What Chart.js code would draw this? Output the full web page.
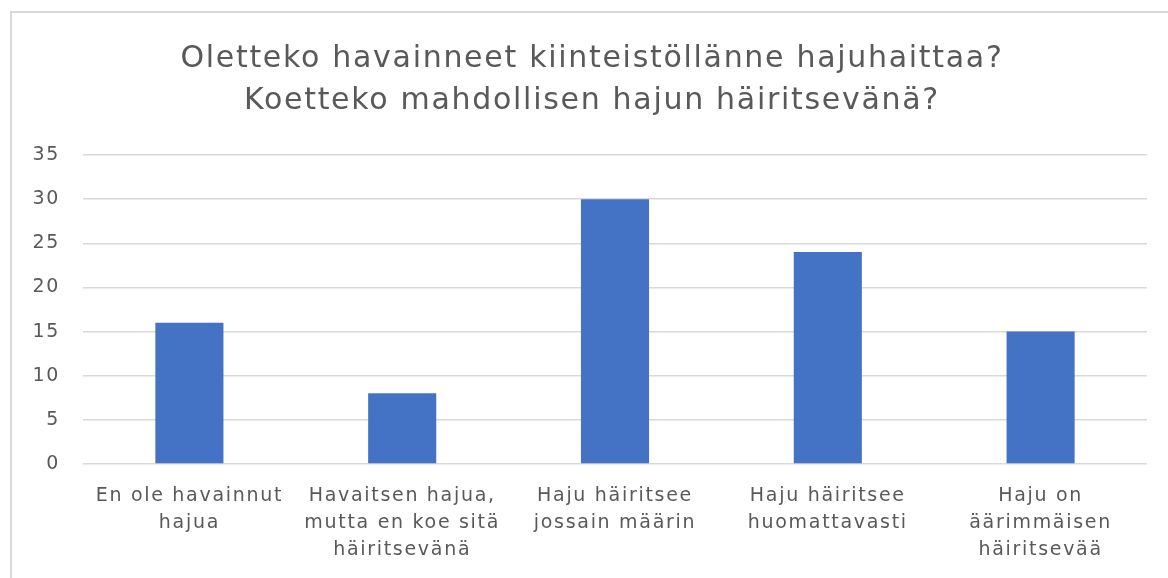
<!DOCTYPE html>
<html>
<head>
<meta charset="utf-8">
<script src="https://cdn.jsdelivr.net/npm/chart.js@4/dist/chart.umd.min.js"></script>
<style>
html,body{margin:0;padding:0;background:#fff;}
#wrap{position:absolute;left:0;top:0;width:1168px;height:578px;}
</style>
</head>
<body>
<div id="wrap"><canvas id="c" width="1168" height="578"></canvas></div>
<script>
const titleLines = ["Oletteko havainneet kiinteistöllänne hajuhaittaa?", "Koetteko mahdollisen hajun häiritsevänä?"];
const categories = [
  ["En ole havainnut", "hajua"],
  ["Havaitsen hajua,", "mutta en koe sitä", "häiritsevänä"],
  ["Haju häiritsee", "jossain määrin"],
  ["Haju häiritsee", "huomattavasti"],
  ["Haju on", "äärimmäisen", "häiritsevää"]
];
const values = [16, 8, 30, 24, 15];
const yMin = 0, yMax = 35, yStep = 5;

const FONT = "'DejaVu Sans', sans-serif";
const TXT = "#595959";

const borderPlugin = {
  id: 'outerBorder',
  afterLayout(chart) {
    if (chart.titleBlock) { chart.titleBlock.left = 37; }
  },
  beforeDraw(chart) {
    const ctx = chart.ctx;
    ctx.save();
    ctx.strokeStyle = '#d9d9d9';
    ctx.lineWidth = 2;
    ctx.beginPath();
    ctx.moveTo(11, 600);
    ctx.lineTo(11, 12);
    ctx.lineTo(1200, 12);
    ctx.stroke();
    ctx.restore();
    ctx.letterSpacing = '1.7px';
  }
};

new Chart(document.getElementById('c'), {
  type: 'bar',
  data: {
    labels: categories,
    datasets: [{
      data: values,
      backgroundColor: '#4472C4',
      borderWidth: 0,
      barPercentage: 0.32,
      categoryPercentage: 1
    }]
  },
  options: {
    responsive: false,
    animation: false,
    devicePixelRatio: 1,
    layout: { padding: { left: 0, right: 21, top: 0, bottom: 0 } },
    plugins: {
      legend: { display: false },
      tooltip: { enabled: false },
      title: {
        display: true,
        text: titleLines,
        color: TXT,
        font: { family: FONT, size: 30, weight: 'normal', lineHeight: 1.4 },
        padding: { top: 38, bottom: 33 }
      }
    },
    scales: {
      x: {
        grid: { display: false, drawTicks: false },
        border: { display: false },
        ticks: {
          color: TXT,
          font: { family: FONT, size: 19, lineHeight: 1.42 },
          padding: 19,
          maxRotation: 0,
          autoSkip: false
        },
        afterFit(scale) { scale.height = 114; }
      },
      y: {
        min: yMin, max: yMax,
        grid: { color: '#d9d9d9', lineWidth: 1.5, drawTicks: false },
        border: { display: false },
        ticks: {
          stepSize: yStep,
          color: TXT,
          font: { family: FONT, size: 19 },
          padding: 23
        },
        afterFit(scale) { scale.width = 83; }
      }
    }
  },
  plugins: [borderPlugin]
});
</script>
</body>
</html>
